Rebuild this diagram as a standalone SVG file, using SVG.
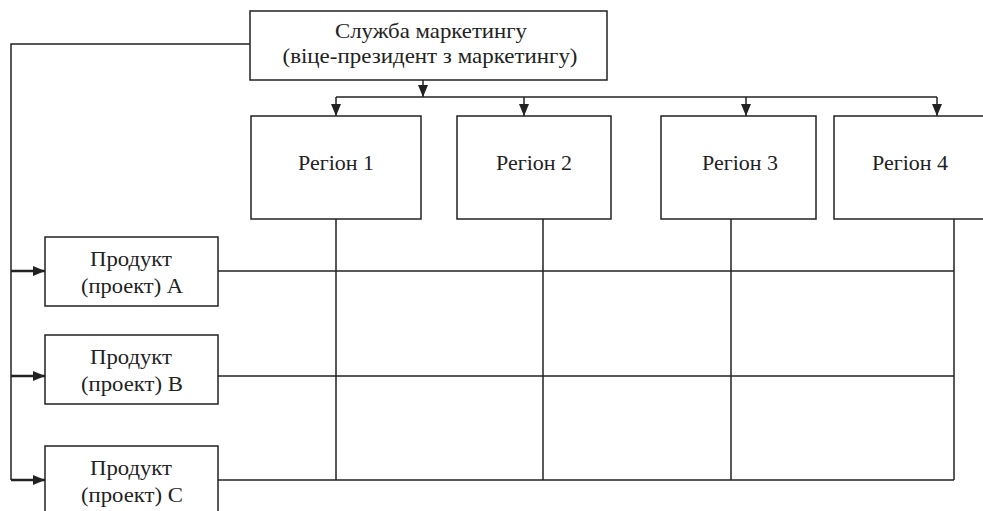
<svg xmlns="http://www.w3.org/2000/svg" width="983" height="511" viewBox="0 0 983 511">
<style>
.box{fill:#fff;stroke:#222;stroke-width:1.5}
.ln{fill:none;stroke:#222;stroke-width:1.5}
.lnb{fill:none;stroke:#222;stroke-width:2.5}
.t{font-family:"Liberation Serif","Times New Roman",serif;font-size:21px;fill:#222;text-anchor:middle}
</style>
<defs>
<marker id="ah" viewBox="0 0 12 10" refX="12" refY="5" markerWidth="12" markerHeight="10" markerUnits="userSpaceOnUse" orient="auto">
<path d="M0,0 L12,5 L0,10 Z" fill="#222"/>
</marker>
</defs>
<g id="connectors">
<path class="ln" d="M250,44 H11 V480"/>
<path class="lnb" d="M11,271 H45" marker-end="url(#ah)"/>
<path class="lnb" d="M11,376 H45" marker-end="url(#ah)"/>
<path class="lnb" d="M11,480 H45" marker-end="url(#ah)"/>
<path class="ln" d="M423,80 V97" marker-end="url(#ah)"/>
<path class="ln" d="M336,97 H937"/>
<path class="ln" d="M336,97 V116" marker-end="url(#ah)"/>
<path class="ln" d="M524,97 V116" marker-end="url(#ah)"/>
<path class="ln" d="M746,97 V116" marker-end="url(#ah)"/>
<path class="ln" d="M937,97 V116" marker-end="url(#ah)"/>
<path class="ln" d="M336,219 V480"/>
<path class="ln" d="M543,219 V480"/>
<path class="ln" d="M731,219 V480"/>
<path class="ln" d="M954,219 V480"/>
<path class="ln" d="M218,271 H954"/>
<path class="ln" d="M218,376 H954"/>
<path class="ln" d="M218,480 H954"/>
</g>
<g id="marketing">
<rect class="box" x="250" y="11" width="357" height="69"/>
<text class="t" x="431" y="38" textLength="192" lengthAdjust="spacingAndGlyphs">Служба маркетингу</text>
<text class="t" x="430" y="63" textLength="295" lengthAdjust="spacingAndGlyphs">(віце-президент з маркетингу)</text>
</g>
<g id="region1">
<rect class="box" x="251" y="116" width="170" height="103"/>
<text class="t" x="336" y="170" textLength="76" lengthAdjust="spacingAndGlyphs">Регіон 1</text>
</g>
<g id="region2">
<rect class="box" x="457" y="116" width="154" height="103"/>
<text class="t" x="534" y="170" textLength="76" lengthAdjust="spacingAndGlyphs">Регіон 2</text>
</g>
<g id="region3">
<rect class="box" x="661" y="116" width="155" height="103"/>
<text class="t" x="740" y="170" textLength="76" lengthAdjust="spacingAndGlyphs">Регіон 3</text>
</g>
<g id="region4">
<rect class="box" x="834" y="116" width="160" height="103"/>
<text class="t" x="910" y="170" textLength="76" lengthAdjust="spacingAndGlyphs">Регіон 4</text>
</g>
<g id="productA">
<rect class="box" x="45" y="237" width="173" height="69"/>
<text class="t" x="131" y="266" textLength="82" lengthAdjust="spacingAndGlyphs">Продукт</text>
<text class="t" x="132" y="293" textLength="102" lengthAdjust="spacingAndGlyphs">(проект) А</text>
</g>
<g id="productB">
<rect class="box" x="45" y="335" width="173" height="69"/>
<text class="t" x="131" y="364" textLength="82" lengthAdjust="spacingAndGlyphs">Продукт</text>
<text class="t" x="132" y="391" textLength="102" lengthAdjust="spacingAndGlyphs">(проект) В</text>
</g>
<g id="productC">
<rect class="box" x="45" y="446" width="173" height="69"/>
<text class="t" x="131" y="475" textLength="82" lengthAdjust="spacingAndGlyphs">Продукт</text>
<text class="t" x="132" y="502" textLength="102" lengthAdjust="spacingAndGlyphs">(проект) С</text>
</g>
</svg>
